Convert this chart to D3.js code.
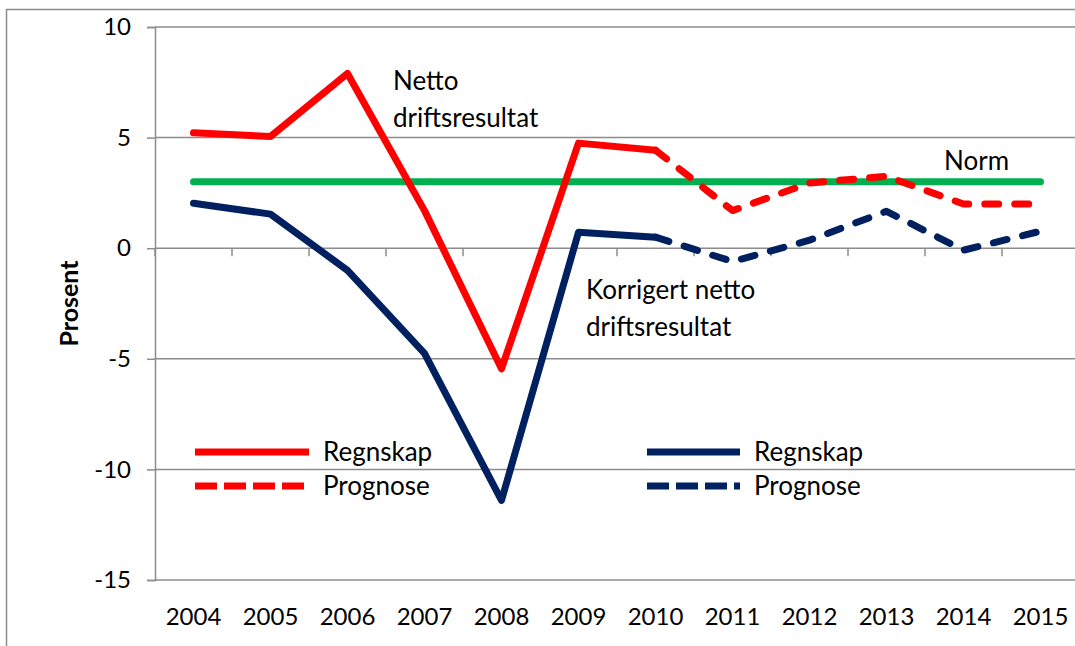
<!DOCTYPE html>
<html>
<head>
<meta charset="utf-8">
<script src="https://cdn.jsdelivr.net/npm/d3@7"></script>
<style>
  body { margin: 0; background: #fff; }
  svg text { font-family: Lato, "Open Sans", sans-serif; fill: #000; }
</style>
</head>
<body>
<div id="chart"></div>
<script>
// data
const years = ["2004", "2005", "2006", "2007", "2008", "2009", "2010", "2011", "2012", "2013", "2014", "2015"];
const nettoRegnskap = [5.22, 5.05, 7.9, 1.7, -5.45, 4.75, 4.43, null, null, null, null, null];
const nettoPrognose = [null, null, null, null, null, null, 4.43, 1.7, 2.95, 3.25, 2.0, 2.0];
const korrRegnskap = [2.03, 1.54, -1.0, -4.75, -11.4, 0.72, 0.5, null, null, null, null, null];
const korrPrognose = [null, null, null, null, null, null, 0.5, -0.6, 0.36, 1.67, -0.09, 0.77];
const norm = [3, 3, 3, 3, 3, 3, 3, 3, 3, 3, 3, 3];
const yTicks = [10, 5, 0, -5, -10, -15];

const W = 1075, H = 646;
const margin = { top: 27, right: -4, bottom: 66, left: 155 };
const width = W - margin.left - margin.right;
const height = H - margin.top - margin.bottom;

const RED = "#ff0000", BLUE = "#002060", GREEN = "#00b050", GRID = "#8c8c8c";

const svg = d3.select("#chart").append("svg")
    .attr("width", W)
    .attr("height", H);

// outer chart frame
svg.append("rect")
    .attr("x", 6.5).attr("y", 9.5)
    .attr("width", W + 10).attr("height", H + 10)
    .attr("fill", "none").attr("stroke", GRID).attr("stroke-width", 1.5);

const g = svg.append("g")
    .attr("transform", "translate(" + margin.left + "," + margin.top + ")");

const x = d3.scaleBand().domain(years).range([0, width]);
const y = d3.scaleLinear().domain([-15, 10]).range([height, 0]);
const cx = d => x(d) + x.bandwidth() / 2;

// horizontal gridlines
g.append("g")
    .selectAll("line")
    .data(yTicks.filter(d => d !== 0))
    .enter().append("line")
    .attr("x1", 0).attr("x2", width)
    .attr("y1", d => y(d)).attr("y2", d => y(d))
    .attr("stroke", GRID).attr("stroke-width", 1.5);

// y axis (plain hyphen minus like the original)
const yAxis = g.append("g")
    .call(d3.axisLeft(y).tickValues(yTicks).tickSize(8).tickPadding(16)
        .tickFormat(d => String(d)));
yAxis.select(".domain").attr("stroke", GRID).attr("stroke-width", 1.5);
yAxis.selectAll(".tick line").attr("stroke", GRID).attr("stroke-width", 1.5);
yAxis.selectAll(".tick text")
    .style("font-size", "24px");

// x axis at zero with ticks on band boundaries
const x0 = g.append("g").attr("transform", "translate(0," + y(0) + ")");
x0.append("line")
    .attr("x1", 0).attr("x2", width)
    .attr("stroke", GRID).attr("stroke-width", 1.5);
x0.selectAll(".bt")
    .data(years)
    .enter().append("line")
    .attr("class", "bt")
    .attr("x1", d => x(d)).attr("x2", d => x(d))
    .attr("y1", 0).attr("y2", 8)
    .attr("stroke", GRID).attr("stroke-width", 1.5);

// year labels below the plot
g.append("g")
    .selectAll("text")
    .data(years)
    .enter().append("text")
    .attr("x", d => cx(d))
    .attr("y", height + 45)
    .attr("text-anchor", "middle")
    .style("font-size", "24px")
    .text(d => d);

// y axis title
svg.append("text")
    .attr("transform", "translate(78," + (margin.top + y(-2.5)) + ") rotate(-90)")
    .attr("text-anchor", "middle")
    .style("font-size", "25px")
    .style("font-weight", "bold")
    .text("Prosent");

const line = d3.line()
    .defined(d => d.v !== null)
    .x(d => cx(d.year))
    .y(d => y(d.v));

function series(vals, color, dashed) {
    g.append("path")
        .datum(vals.map((v, i) => ({ year: years[i], v: v })))
        .attr("d", line)
        .attr("fill", "none")
        .attr("stroke", color)
        .attr("stroke-width", 7)
        .attr("stroke-linejoin", "round")
        .attr("stroke-linecap", "round")
        .attr("stroke-dasharray", dashed ? "14,16" : null);
}

series(norm, GREEN, false);
series(korrRegnskap, BLUE, false);
series(korrPrognose, BLUE, true);
series(nettoRegnskap, RED, false);
series(nettoPrognose, RED, true);

// annotations
function label(lines, px, py) {
    const t = svg.append("text")
        .attr("x", px).attr("y", py)
        .style("font-size", "26px");
    lines.forEach((s, i) => {
        t.append("tspan").attr("x", px).attr("dy", i === 0 ? 0 : 37).text(s);
    });
}
label(["Netto", "driftsresultat"], 393, 90);
label(["Korrigert netto", "driftsresultat"], 586, 299);
label(["Norm"], 944, 170);

// legends
const legend = [
    { x: 195, len: 114, y: 452, color: RED, dashed: false, text: "Regnskap" },
    { x: 195, len: 114, y: 486, color: RED, dashed: true, text: "Prognose" },
    { x: 647, len: 93, y: 452, color: BLUE, dashed: false, text: "Regnskap" },
    { x: 647, len: 93, y: 486, color: BLUE, dashed: true, text: "Prognose" }
];
const lg = svg.append("g").selectAll("g").data(legend).enter().append("g");
lg.append("line")
    .attr("x1", d => d.x).attr("x2", d => d.x + d.len)
    .attr("y1", d => d.y).attr("y2", d => d.y)
    .attr("stroke", d => d.color)
    .attr("stroke-width", 7)
    .attr("stroke-dasharray", d => d.dashed ? "22,7" : null);
lg.append("text")
    .attr("x", d => d.x + d.len + 14)
    .attr("y", d => d.y + 9)
    .style("font-size", "26px")
    .text(d => d.text);
</script>
</body>
</html>
